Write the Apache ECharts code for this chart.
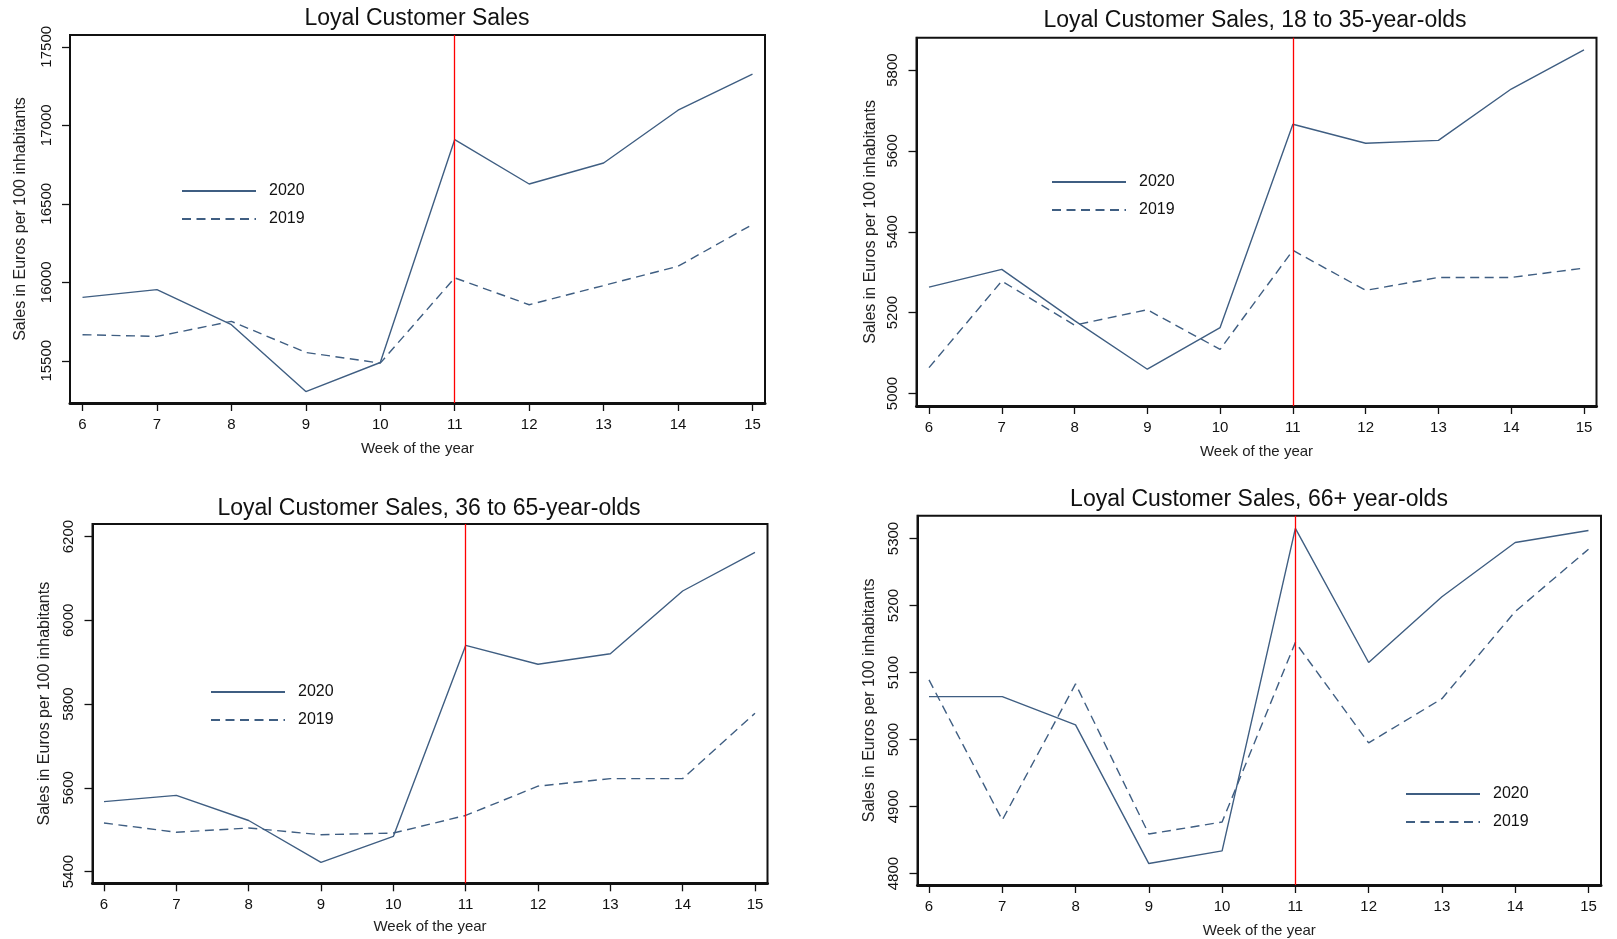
<!DOCTYPE html>
<html>
<head>
<meta charset="utf-8">
<script src="https://cdn.jsdelivr.net/npm/echarts@6/dist/echarts.min.js"></script>
<style>
html,body{margin:0;padding:0;background:#fff;}
#chart{width:1617px;height:939px;}
</style>
</head>
<body>
<div id="chart"></div>
<script>
// ---- data ----
var weeks = [6, 7, 8, 9, 10, 11, 12, 13, 14, 15];
var seriesNames = ['2020', '2019'];
var titles = [
  'Loyal Customer Sales',
  'Loyal Customer Sales, 18 to 35-year-olds',
  'Loyal Customer Sales, 36 to 65-year-olds',
  'Loyal Customer Sales, 66+ year-olds'
];
var all2020   = [15904, 15953, 15730, 15304, 15489, 16909, 16626, 16760, 17096, 17326];
var all2019   = [15666, 15655, 15751, 15553, 15485, 16028, 15857, 15979, 16102, 16368];
var young2020 = [5263, 5307, 5180, 5060, 5163, 5666, 5619, 5626, 5753, 5850];
var young2019 = [5064, 5278, 5169, 5207, 5109, 5354, 5255, 5287, 5287, 5310];
var mid2020   = [5567, 5582, 5522, 5422, 5484, 5940, 5895, 5920, 6070, 6162];
var mid2019   = [5516, 5494, 5504, 5488, 5492, 5534, 5604, 5622, 5622, 5778];
var old2020   = [5064, 5064, 5022, 4815, 4834, 5315, 5115, 5213, 5294, 5312];
var old2019   = [5089, 4880, 5083, 4859, 4877, 5145, 4995, 5061, 5191, 5284];
var yTicks1 = [15500, 16000, 16500, 17000, 17500];
var yTicks2 = [5000, 5200, 5400, 5600, 5800];
var yTicks3 = [5400, 5600, 5800, 6000, 6200];
var yTicks4 = [4800, 4900, 5000, 5100, 5200, 5300];
var eventWeek = 11;
var xAxisName = 'Week of the year';
var yAxisName = 'Sales in Euros per 100 inhabitants';

// ---- layout / style ----
var panels = [
  {d20: all2020, d19: all2019, ticks: yTicks1, grid: {left: 70, right: 852, top: 35, bottom: 536},
   xr: [5.832, 15.168], yr: [15231, 17575], title: {x: 417, y: 7}, legend: {x: 181, y: 183}, nameGap: 41, xNameGap: 38},
  {d20: young2020, d19: young2019, ticks: yTicks2, grid: {left: 916.5, right: 20.5, top: 37.7, bottom: 533},
   xr: [5.828, 15.172], yr: [4969, 5880], title: {x: 1255, y: 9}, legend: {x: 1051, y: 174}, nameGap: 38, xNameGap: 38},
  {d20: mid2020, d19: mid2019, ticks: yTicks3, grid: {left: 92.5, right: 849.5, top: 524, bottom: 55.7},
   xr: [5.841, 15.173], yr: [5372, 6230], title: {x: 429, y: 497}, legend: {x: 210, y: 684}, nameGap: 40, xNameGap: 36},
  {d20: old2020, d19: old2019, ticks: yTicks4, grid: {left: 917.5, right: 16, top: 515.7, bottom: 53},
   xr: [5.843, 15.171], yr: [4783, 5334], title: {x: 1259, y: 488}, legend: {x: 1405, y: 786}, nameGap: 40, xNameGap: 38}
];
var lineColor = '#3f5e82';
var font = 'Liberation Sans, Arial, sans-serif';

function pairs(arr) { return weeks.map(function (w, i) { return [w, arr[i]]; }); }
function plain(v) { return String(v); }

var option = {
  animation: false,
  backgroundColor: '#fff',
  textStyle: {fontFamily: font},
  title: [], legend: [], grid: [], xAxis: [], yAxis: [], series: []
};

panels.forEach(function (p, i) {
  option.title.push({
    text: titles[i], left: p.title.x, top: p.title.y, textAlign: 'center', padding: 0,
    textStyle: {fontFamily: font, fontSize: 23, fontWeight: 'normal', color: '#111'}
  });
  option.grid.push({
    left: p.grid.left, right: p.grid.right, top: p.grid.top, bottom: p.grid.bottom,
    show: true, borderColor: '#111', borderWidth: 2, containLabel: false
  });
  option.xAxis.push({
    type: 'value', gridIndex: i, min: p.xr[0], max: p.xr[1],
    name: xAxisName, nameLocation: 'middle', nameGap: p.xNameGap,
    nameTextStyle: {fontFamily: font, fontSize: 15, color: '#222'},
    axisLine: {show: true, onZero: false, lineStyle: {color: '#111', width: 3}},
    axisTick: {show: true, length: 8, customValues: weeks, lineStyle: {color: '#111', width: 1.3}},
    axisLabel: {show: true, customValues: weeks, formatter: plain, margin: 14, fontSize: 15, color: '#111', fontFamily: font},
    splitLine: {show: false}
  });
  option.yAxis.push({
    type: 'value', gridIndex: i, min: p.yr[0], max: p.yr[1],
    name: yAxisName, nameLocation: 'middle', nameGap: p.nameGap, nameRotate: 90,
    nameTextStyle: {fontFamily: font, fontSize: 16, color: '#222'},
    axisLine: {show: true, onZero: false, lineStyle: {color: '#111', width: 2}},
    axisTick: {show: true, length: 8, customValues: p.ticks, lineStyle: {color: '#111', width: 1.3}},
    axisLabel: {show: true, customValues: p.ticks, formatter: plain, rotate: 90, margin: 16, fontSize: 15, color: '#111', fontFamily: font},
    splitLine: {show: false}
  });
  option.legend.push({
    data: seriesNames, orient: 'vertical', left: p.legend.x, top: p.legend.y, padding: 0,
    itemWidth: 74, itemHeight: 14, itemGap: 12, selectedMode: false,
    itemStyle: {opacity: 0},
    textStyle: {fontFamily: font, fontSize: 16, color: '#111', padding: [0, 0, 0, 8]}
  });
  option.series.push({
    name: seriesNames[0], type: 'line', xAxisIndex: i, yAxisIndex: i,
    data: pairs(p.d20), symbol: 'none', z: 3,
    lineStyle: {color: lineColor, width: 1.4, type: 'solid'}, itemStyle: {color: lineColor},
    markLine: {
      silent: true, symbol: ['none', 'none'], label: {show: false},
      lineStyle: {color: '#ff0000', width: 1.3, type: 'solid'},
      data: [{xAxis: eventWeek}]
    }
  });
  option.series.push({
    name: seriesNames[1], type: 'line', xAxisIndex: i, yAxisIndex: i,
    data: pairs(p.d19), symbol: 'none', z: 3,
    lineStyle: {color: lineColor, width: 1.4, type: [9, 5.5]}, itemStyle: {color: lineColor}
  });
});

var chart = echarts.init(document.getElementById('chart'), null, {renderer: 'canvas'});
chart.setOption(option);
</script>
</body>
</html>
